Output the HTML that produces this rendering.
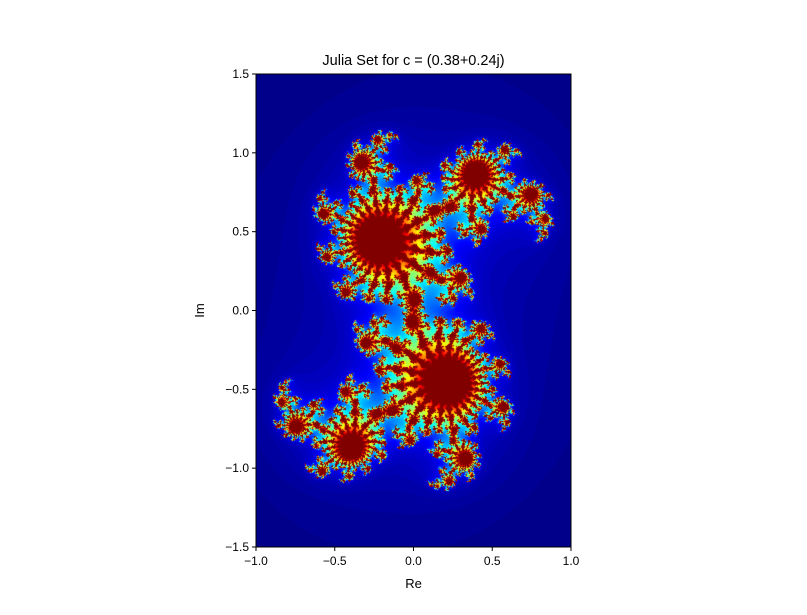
<!DOCTYPE html>
<html><head><meta charset="utf-8"><style>
body{margin:0;background:#fff;width:807px;height:615px;overflow:hidden;font-family:"Liberation Sans",sans-serif}
#wrap{position:relative;width:807px;height:615px}
</style></head><body>
<div id="wrap">
<canvas id="cv" width="315" height="473" style="position:absolute;left:256px;top:74px"></canvas>
<svg id="ax" width="807" height="615" style="position:absolute;left:0;top:0"></svg>
</div>
<script>
const cRe=[0.38], cIm=[0.24];
const xRange=[-1,1], yRange=[-1.5,1.5];
const maxIter=[100];
const xTicks=[-1.0,-0.5,0.0,0.5,1.0];
const yTicks=[-1.5,-1.0,-0.5,0.0,0.5,1.0,1.5];
const L=256,T=74,W=315,H=473;
const sx=v=>L+(v-xRange[0])/(xRange[1]-xRange[0])*W;
const sy=v=>T+(yRange[1]-v)/(yRange[1]-yRange[0])*H;
function jet(t){const r=Math.min(1,Math.max(0,1.5-Math.abs(4*t-3))),g=Math.min(1,Math.max(0,1.5-Math.abs(4*t-2))),b=Math.min(1,Math.max(0,1.5-Math.abs(4*t-1)));return[r*255,g*255,b*255];}
const cv=document.getElementById('cv'),ctx=cv.getContext('2d'),img=ctx.createImageData(W,H);
const M=maxIter[0];
for(let j=0;j<H;j++){const y0=yRange[0]+(j+0.5)/H*(yRange[1]-yRange[0]);
for(let i=0;i<W;i++){let x=xRange[0]+(i+0.5)/W*(xRange[1]-xRange[0]),y=y0,n=0;
while(n<M&&x*x+y*y<=4){const xt=x*x-y*y+cRe[0];y=2*x*y+cIm[0];x=xt;n++;}
const c=jet(n/M),k=(j*W+i)*4;img.data[k]=c[0];img.data[k+1]=c[1];img.data[k+2]=c[2];img.data[k+3]=255;}}
ctx.putImageData(img,0,0);
const svg=document.getElementById('ax'),NS='http://www.w3.org/2000/svg';
function el(t,a,txt){const e=document.createElementNS(NS,t);for(const k in a)e.setAttribute(k,a[k]);if(txt!==undefined)e.textContent=txt;svg.appendChild(e);return e;}
let f=el('rect',{x:L,y:T,width:W,height:H,fill:'none',stroke:'#000','stroke-width':1});


xTicks.forEach(v=>{const x=sx(v);
let t=el('line',{x1:x,y1:T+H,x2:x,y2:T+H+4,stroke:'#000'});


let l=el('text',{x:x,y:T+H+18,'text-anchor':'middle','font-size':12},v.toFixed(1).replace('-','\u2212'));

});
yTicks.forEach(v=>{const y=sy(v);
let t=el('line',{x1:L-4,y1:y,x2:L,y2:y,stroke:'#000'});


let l=el('text',{x:L-7,y:y+4,'text-anchor':'end','font-size':12},v.toFixed(1).replace('-','\u2212'));

});
let ti=el('text',{x:L+W/2,y:65,'text-anchor':'middle','font-size':14.5},'Julia Set for c = (0.38+0.24j)');


let xl=el('text',{x:L+W/2,y:588,'text-anchor':'middle','font-size':13},'Re');


let yl=el('text',{x:204,y:T+H/2,'text-anchor':'middle','font-size':13,transform:'rotate(-90 204 '+(T+H/2)+')'},'Im');


</script>
</body></html>
